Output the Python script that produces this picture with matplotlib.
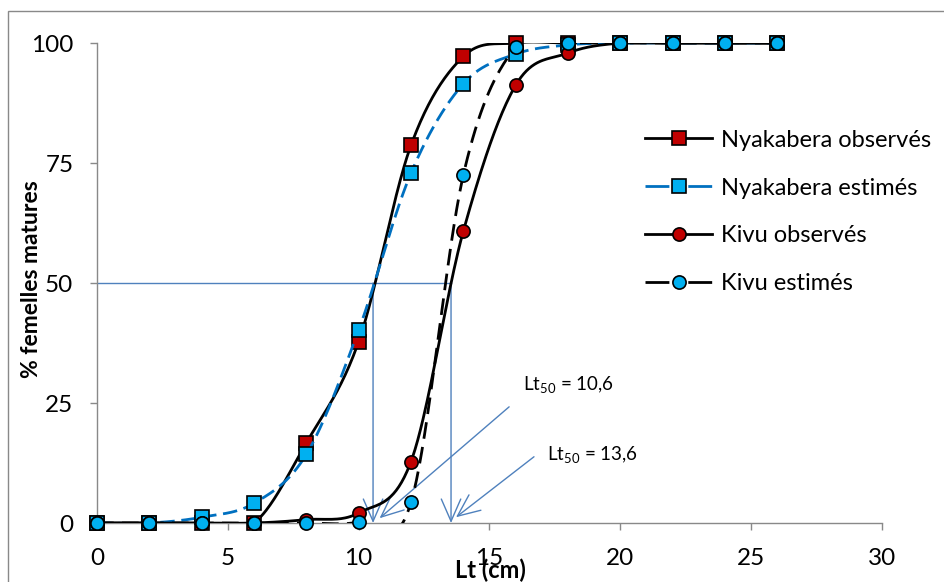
import matplotlib
matplotlib.use("Agg")
import matplotlib.pyplot as plt
import numpy as np
from matplotlib.lines import Line2D
from matplotlib.patches import Rectangle

plt.rcParams["font.family"] = ["Lato", "DejaVu Sans"]
plt.rcParams["mathtext.default"] = "regular"

# data
lt = [0, 2, 4, 6, 8, 10, 12, 14, 16, 18, 20, 22, 24, 26]
nyak_obs = [0, 0, 0, 0, 16.7, 37.8, 78.7, 97.2, 100, 100, 100, 100, 100, 100]
nyak_est = [0, 0, 1.2, 4.1, 14.3, 40.2, 72.9, 91.5, 97.7, 99.6, 100, 100, 100, 100]
kivu_obs = [0, 0, 0, 0, 0.7, 2.1, 12.8, 60.8, 91.2, 97.9, 100, 100, 100, 100]
kivu_est = [0, 0, 0, 0, 0, 0.2, 4.3, 72.5, 99.2, 100, 100, 100, 100, 100]
labels = ["Nyakabera observés", "Nyakabera estimés", "Kivu observés", "Kivu estimés"]

lt50_nyak = 10.55
lt50_kivu = 13.53

red = "#C00000"
cyan = "#00B0F0"
blue = "#0070C0"
steel = "#4F81BD"
grey = "#898989"


def smooth(x, y, n=40):
    # excel-like smoothed line (bezier through the points)
    pts = np.column_stack([x, y]).astype(float)
    P = np.vstack([pts[0], pts, pts[-1]])
    out = []
    t = np.linspace(0, 1, n)[:, None]
    for i in range(len(pts) - 1):
        p0, p1, p2, p3 = P[i], P[i + 1], P[i + 2], P[i + 3]
        c1 = p1 + (p2 - p0) / 6
        c2 = p2 - (p3 - p1) / 6
        seg = (1 - t) ** 3 * p1 + 3 * (1 - t) ** 2 * t * c1 + 3 * (1 - t) * t ** 2 * c2 + t ** 3 * p2
        out.append(seg if i == 0 else seg[1:])
    s = np.vstack(out)
    return s[:, 0], s[:, 1]


fig = plt.figure(figsize=(9.45, 5.82), dpi=100)
ax = fig.add_axes([97 / 945, 59 / 582, 785 / 945, 480 / 582])

series = [
    (nyak_obs, "k", "-", None, "s", red),
    (nyak_est, blue, "--", (5.2, 2.4), "s", cyan),
    (kivu_obs, "k", "-", None, "o", red),
    (kivu_est, "k", "--", (6, 3), "o", cyan),
]
handles = []
for k, (vals, lc, ls, dash, mk, fc) in enumerate(series):
    sx, sy = smooth(lt, vals)
    line, = ax.plot(sx, sy, color=lc, lw=2.0, ls=ls, zorder=3 + 2 * k)
    if dash:
        line.set_dashes(dash)
    ax.plot(lt, vals, ls="none", marker=mk, ms=9.5, mfc=fc, mec="k", mew=1.2,
            clip_on=False, zorder=4 + 2 * k)
    h = Line2D([], [], color=lc, lw=2.0, ls=ls, marker=mk, ms=9.5, mfc=fc, mec="k", mew=1.2)
    if dash:
        h.set_dashes((8.6, 6.8))
    handles.append(h)

# Lt50 construction lines
ax.plot([0, lt50_kivu], [50, 50], color=steel, lw=1.0, zorder=2)
arrow = dict(arrowstyle="->,head_length=1.6,head_width=0.7", color=steel, lw=1.0,
             shrinkA=0, shrinkB=0, mutation_scale=10)
for xv in [lt50_nyak, lt50_kivu]:
    ax.annotate("", xy=(xv, 0), xytext=(xv, 50), arrowprops=arrow, zorder=2)
ax.annotate("", xy=(10.8, 1.0), xytext=(15.75, 24.2), arrowprops=arrow)
ax.annotate("", xy=(13.72, 1.2), xytext=(16.7, 13.8), arrowprops=arrow)
ax.text(16.28, 28.8, "Lt$_{50}$ = 10,6", fontsize=13.5, va="center", ha="left")
ax.text(17.2, 14.2, "Lt$_{50}$ = 13,6", fontsize=13.5, va="center", ha="left")

ax.set_xlim(0, 30)
ax.set_ylim(0, 100)
ax.set_xticks(range(0, 31, 5))
ax.set_yticks(range(0, 101, 25))
for s in ["top", "right"]:
    ax.spines[s].set_visible(False)
for s in ["left", "bottom"]:
    ax.spines[s].set_color(grey)
    ax.spines[s].set_linewidth(1.0)
ax.tick_params(axis="both", colors=grey, labelcolor="k", labelsize=17.5, length=5, width=1.0)
ax.tick_params(axis="y", pad=12)
ax.tick_params(axis="x", pad=13)

fig.text(32 / 945, 1 - 279 / 582, "% femelles matures", rotation=90, fontsize=16.5,
         fontweight="bold", ha="center", va="center")
fig.text(490 / 945, 1 - 570 / 582, "Lt (cm)", fontsize=17, fontweight="bold",
         ha="center", va="center")

ax.legend(handles, labels, loc="center left", frameon=False, fontsize=17,
          bbox_to_anchor=(645 / 945, 1 - 212 / 582), bbox_transform=fig.transFigure,
          borderpad=0, borderaxespad=0, handlelength=2.85, handletextpad=0.35,
          labelspacing=1.14)

fig.patches.append(Rectangle((8 / 945, -0.1), 1.2, 1.1 - 11 / 582, transform=fig.transFigure,
                             fill=False, edgecolor=grey, lw=1.0))

fig.savefig("out.png", dpi=100)
